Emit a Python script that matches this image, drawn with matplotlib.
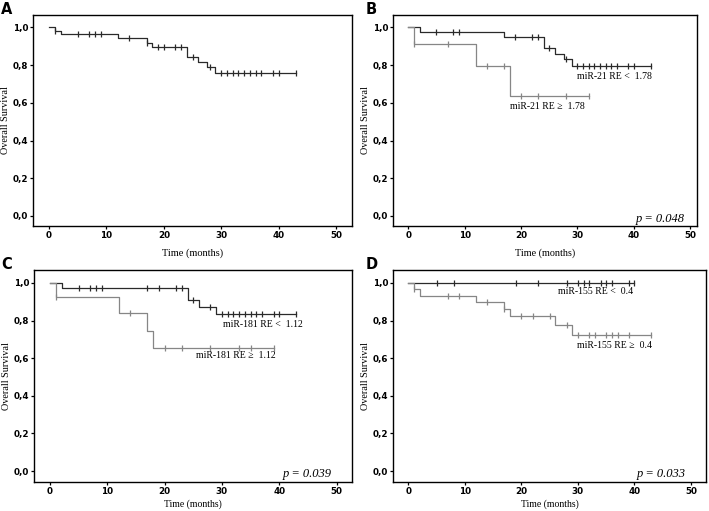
import matplotlib
matplotlib.use('Agg')
import matplotlib.pyplot as plt
from matplotlib.ticker import FuncFormatter
import numpy as np

# --- データ (A) ---
a_times = [0, 1, 2, 12, 17, 18, 24, 26, 27.6, 29, 43]
a_surv = [1.0, 0.982, 0.962, 0.941, 0.919, 0.896, 0.845, 0.817, 0.789, 0.758, 0.758]
a_cens = [1, 5, 7, 8, 9, 14, 17, 19, 20, 22, 23, 25, 28, 30, 31, 32, 33, 34, 35, 36, 37, 39, 40, 43]

# --- データ (B) miR-21 ---
b_lo_times = [0, 2, 17, 24, 26, 27.6, 29, 43]
b_lo_surv = [1.0, 0.973, 0.947, 0.888, 0.860, 0.830, 0.796, 0.796]
b_lo_cens = [5, 8, 9, 19, 22, 23, 25, 28, 30, 31, 32, 33, 34, 35, 36, 37, 39, 40, 43]
b_hi_times = [0, 1, 12, 18, 32]
b_hi_surv = [1.0, 0.910, 0.796, 0.637, 0.637]
b_hi_cens = [1, 7, 14, 17, 20, 23, 28, 32]

# --- データ (C) miR-181 ---
c_lo_times = [0, 2, 24, 26, 29, 43]
c_lo_surv = [1.0, 0.975, 0.908, 0.871, 0.834, 0.834]
c_lo_cens = [5, 7, 8, 9, 17, 19, 22, 23, 25, 28, 30, 31, 32, 33, 34, 35, 36, 37, 39, 40, 43]
c_hi_times = [0, 1, 12, 17, 18, 39]
c_hi_surv = [1.0, 0.923, 0.842, 0.746, 0.653, 0.653]
c_hi_cens = [1, 14, 20, 23, 28, 33, 35, 39]

# --- データ (D) miR-155 ---
d_lo_times = [0, 40]
d_lo_surv = [1.0, 1.0]
d_lo_cens = [5, 8, 19, 23, 28, 30, 31, 32, 34, 35, 36, 39, 40]
d_hi_times = [0, 1, 2, 12, 17, 18, 26, 29, 43]
d_hi_surv = [1.0, 0.966, 0.933, 0.897, 0.863, 0.823, 0.778, 0.725, 0.725]
d_hi_cens = [1, 7, 9, 14, 17, 20, 22, 25, 28, 30, 32, 33, 35, 36, 37, 39, 43]

x_ticks = [0, 10, 20, 30, 40, 50]
y_ticks = [0.0, 0.2, 0.4, 0.6, 0.8, 1.0]

DARK = '#2a2a2a'
GRAY = '#868686'
SERIF = 'Liberation Serif'


def km_curve(ax, times, surv, cens, color):
    ax.step(times, surv, where='post', color=color, lw=0.9)
    t = np.asarray(times)
    s = np.asarray(surv)
    idx = np.searchsorted(t, cens, side='right') - 1
    ax.plot(cens, s[idx], linestyle='none', marker='|', ms=4,
            mew=0.9, color=color)


def style_axes(ax, xlim, ylim, xpad, xsize):
    ax.set_xlim(*xlim)
    ax.set_ylim(*ylim)
    ax.set_xticks(x_ticks)
    ax.set_yticks(y_ticks)
    ax.yaxis.set_major_formatter(FuncFormatter(lambda v, p: f"{v:.1f}".replace('.', ',')))
    for lab in ax.get_xticklabels() + ax.get_yticklabels():
        lab.set_fontweight('bold')
    ax.tick_params(labelsize=6.3, length=2.5, width=0.9, pad=0.8, direction='out')
    for sp in ax.spines.values():
        sp.set_linewidth(1.0)
    ax.set_xlabel('Time (months)', family=SERIF, fontsize=xsize, labelpad=xpad)
    ax.set_ylabel('Overall Survival', family=SERIF, fontsize=7.3, labelpad=2)


fig = plt.figure(figsize=(7.09, 5.11), dpi=100)
W, H = 709, 511


def add_ax(x0, y0, x1, y1):
    return fig.add_axes([x0 / W, 1 - y1 / H, (x1 - x0) / W, (y1 - y0) / H])


axA = add_ax(33, 15, 352, 226)
axB = add_ax(393, 15, 697, 226)
axC = add_ax(34, 270, 352, 482)
axD = add_ax(393, 270, 706, 482)

# A
km_curve(axA, a_times, a_surv, a_cens, DARK)
style_axes(axA, (-2.8, 52.8), (-0.053, 1.065), 6, 7.5)

# B
km_curve(axB, b_lo_times, b_lo_surv, b_lo_cens, DARK)
km_curve(axB, b_hi_times, b_hi_surv, b_hi_cens, GRAY)
style_axes(axB, (-2.7, 51.2), (-0.053, 1.065), 6, 7.3)
axB.text(30.0, 0.738, 'miR-21 RE <  1.78', family=SERIF, fontsize=7, va='center')
axB.text(18.1, 0.579, 'miR-21 RE \u2265  1.78', family=SERIF, fontsize=7, va='center')
axB.text(40.4, -0.016, 'p = 0.048', family=SERIF, style='italic', fontsize=9, va='center')

# C
km_curve(axC, c_lo_times, c_lo_surv, c_lo_cens, DARK)
km_curve(axC, c_hi_times, c_hi_surv, c_hi_cens, GRAY)
style_axes(axC, (-2.8, 52.7), (-0.058, 1.069), 3, 7)
axC.text(30.1, 0.777, 'miR-181 RE <  1.12', family=SERIF, fontsize=7, va='center')
axC.text(25.5, 0.614, 'miR-181 RE \u2265  1.12', family=SERIF, fontsize=7, va='center')
axC.text(40.6, -0.016, 'p = 0.039', family=SERIF, style='italic', fontsize=9, va='center')

# D
km_curve(axD, d_lo_times, d_lo_surv, d_lo_cens, DARK)
km_curve(axD, d_hi_times, d_hi_surv, d_hi_cens, GRAY)
style_axes(axD, (-2.7, 52.65), (-0.058, 1.069), 3, 7)
axD.text(26.5, 0.956, 'miR-155 RE <  0.4', family=SERIF, fontsize=7, va='center')
axD.text(29.8, 0.670, 'miR-155 RE \u2265  0.4', family=SERIF, fontsize=7, va='center')
axD.text(40.4, -0.016, 'p = 0.033', family=SERIF, style='italic', fontsize=9, va='center')

# パネル記号
for lbl, x, y in [('A', 1, 2), ('B', 366, 2), ('C', 1, 257), ('D', 366, 257)]:
    fig.text(x / W, 1 - y / H, lbl, fontsize=10.5, fontweight='bold',
             family='DejaVu Sans', ha='left', va='top')

fig.savefig('out.png', dpi=100)
